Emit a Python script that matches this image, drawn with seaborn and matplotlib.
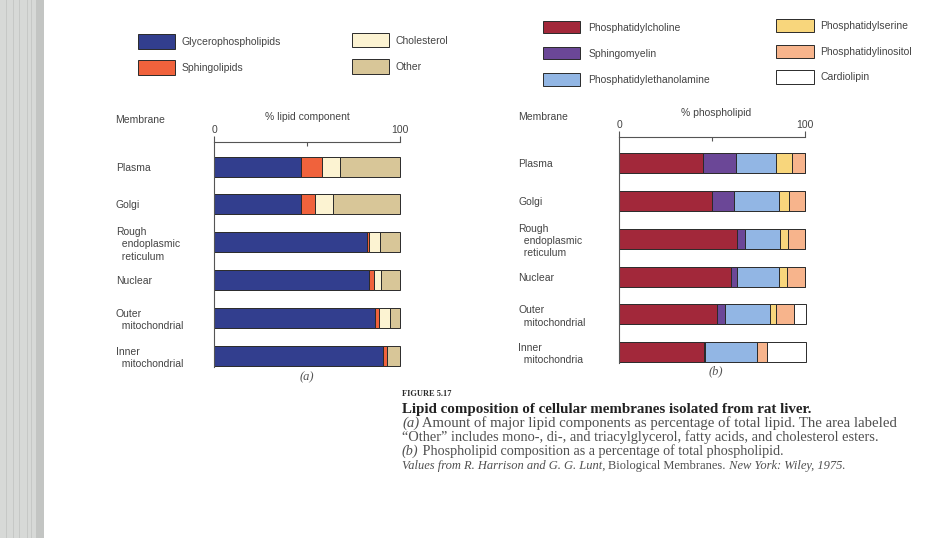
import numpy as np
import pandas as pd
import matplotlib
matplotlib.use("Agg")
import matplotlib.pyplot as plt
from matplotlib.patches import Patch, Rectangle
import seaborn as sns

# ---------------- data ----------------
membranes = ["Plasma", "Golgi", "Rough endoplasmic reticulum", "Nuclear",
             "Outer mitochondrial", "Inner mitochondrial"]
labels_a = ["Plasma", "Golgi", "Rough\n  endoplasmic\n  reticulum", "Nuclear",
            "Outer\n  mitochondrial", "Inner\n  mitochondrial"]
labels_b = ["Plasma", "Golgi", "Rough\n  endoplasmic\n  reticulum", "Nuclear",
            "Outer\n  mitochondrial", "Inner\n  mitochondria"]

lipid_components = ["Glycerophospholipids", "Sphingolipids", "Cholesterol", "Other"]
glycerophospholipids = [47, 47, 82, 83.5, 86.5, 91]
sphingolipids = [11, 7.5, 1.5, 2.5, 2, 2]
cholesterol = [10, 9.5, 5.5, 4, 6, 0]
other = [32, 36, 11, 10, 5.5, 7]

phospholipids = ["Phosphatidylcholine", "Sphingomyelin", "Phosphatidylethanolamine",
                 "Phosphatidylserine", "Phosphatidylinositol", "Cardiolipin"]
phosphatidylcholine = [45, 50, 63.5, 60, 52.5, 45.5]
sphingomyelin = [18, 12, 4, 3.5, 4.5, 0.7]
phosphatidylethanolamine = [21.5, 24, 19, 22.5, 24, 28]
phosphatidylserine = [8.5, 5.5, 4.5, 4.5, 3.5, 0]
phosphatidylinositol = [7, 8.5, 9, 9.5, 9.5, 5.5]
cardiolipin = [0, 0, 0, 0, 6.5, 21]

colors_a = ["#323e8e", "#f0623c", "#fcf3d2", "#d8c698"]
colors_b = ["#a2283a", "#6b4797", "#92b6e4", "#f8d67c", "#f7b48c", "#ffffff"]

# ---------------- style ----------------
sns.set_theme(style="white")
plt.rcParams["font.family"] = ["Liberation Sans", "DejaVu Sans"]
TXT = "#444444"
EDGE = "#2a2a2a"
FS = 7.5

W, H = 941, 538
fig = plt.figure(figsize=(W / 100, H / 100), dpi=100)
fig.patch.set_facecolor("white")


def fx(x):
    return x / W


def fy(y):
    return 1 - y / H


# book gutter strip on the left
fig.add_artist(Rectangle((0, 0), fx(44), 1, transform=fig.transFigure,
                         facecolor="#d7d9d7", edgecolor="none"))
fig.add_artist(Rectangle((fx(36), 0), fx(8), 1, transform=fig.transFigure,
                         facecolor="#c3c5c3", edgecolor="none"))
for gx in [6, 13, 19, 27, 31]:
    fig.add_artist(Rectangle((fx(gx), 0), fx(1), 1, transform=fig.transFigure,
                             facecolor="#c6c8c6", edgecolor="none"))


def stacked(ax, series, colors):
    left = np.zeros(len(membranes))
    for vals, col in zip(series, colors):
        df = pd.DataFrame({"membrane": membranes, "pct": vals})
        sns.barplot(data=df, x="pct", y="membrane", order=membranes, orient="h",
                    color=col, saturation=1, width=0.53, errorbar=None,
                    left=left.copy(), edgecolor=EDGE, linewidth=0.7,
                    clip_on=False, ax=ax)
        left += np.asarray(vals, dtype=float)


def style_axes(ax, labels, ylim, pad_pt):
    ax.set_xlim(0, 100)
    ax.set_ylim(*ylim)
    ax.set_xlabel("")
    ax.set_ylabel("")
    for s in ["bottom", "right"]:
        ax.spines[s].set_visible(False)
    for s in ["top", "left"]:
        ax.spines[s].set_color("#555555")
        ax.spines[s].set_linewidth(0.8)
    ax.xaxis.tick_top()
    ax.set_xticks([0, 100])
    ax.set_xticklabels(["0", "100"])
    ax.set_xticks([50], minor=True)
    ax.tick_params(axis="x", which="major", direction="out", length=4, width=0.8,
                   pad=1, labelsize=FS, colors="#555555", labelcolor=TXT)
    ax.tick_params(axis="x", which="minor", direction="in", length=3, width=0.8,
                   colors="#555555", top=True, bottom=False)
    ax.set_yticks(range(len(labels)))
    ax.set_yticklabels(labels, ha="left", linespacing=1.3)
    ax.tick_params(axis="y", length=0, pad=pad_pt, labelsize=FS, labelcolor=TXT)
    ax.set_facecolor("none")


leg_kw = dict(frameon=False, loc="upper left", borderpad=0, borderaxespad=0,
              fontsize=FS, labelcolor=TXT)

# ---------------- panel (a) ----------------
ax_a = fig.add_axes([fx(214), fy(367), fx(186), 225 / H])
stacked(ax_a, [glycerophospholipids, sphingolipids, cholesterol, other], colors_a)
style_axes(ax_a, labels_a, (5.3, -0.653), 98 * 0.72)

fig.text(fx(115), fy(120), "Membrane", fontsize=FS, color=TXT, ha="left", va="center")
fig.text(fx(307), fy(117), "% lipid component", fontsize=FS, color=TXT, ha="center", va="center")
fig.text(fx(307), fy(377), "(a)", fontsize=9, color="#555555", ha="center", va="center",
         family="Liberation Serif", style="italic")

hand_a = [Patch(facecolor=c, edgecolor=EDGE, linewidth=0.7) for c in colors_a]
fig.legend(hand_a[:2], lipid_components[:2], bbox_to_anchor=(fx(138), fy(34)),
           handlelength=3.55, handleheight=1.8, labelspacing=1.08, handletextpad=0.67, **leg_kw)
fig.legend(hand_a[2:], lipid_components[2:], bbox_to_anchor=(fx(352), fy(33)),
           handlelength=3.55, handleheight=1.75, labelspacing=1.15, handletextpad=0.67, **leg_kw)

# ---------------- panel (b) ----------------
ax_b = fig.add_axes([fx(619.3), fy(363), fx(185.7), 225.7 / H])
stacked(ax_b, [phosphatidylcholine, sphingomyelin, phosphatidylethanolamine,
               phosphatidylserine, phosphatidylinositol, cardiolipin], colors_b)
style_axes(ax_b, labels_b, (5.29, -0.69), 101 * 0.72)

fig.text(fx(518), fy(117), "Membrane", fontsize=FS, color=TXT, ha="left", va="center")
fig.text(fx(716), fy(113), "% phospholipid", fontsize=FS, color=TXT, ha="center", va="center")
fig.text(fx(716), fy(371), "(b)", fontsize=9, color="#555555", ha="center", va="center",
         family="Liberation Serif", style="italic")

hand_b = [Patch(facecolor=c, edgecolor=EDGE, linewidth=0.7) for c in colors_b]
fig.legend(hand_b[:3], phospholipids[:3], bbox_to_anchor=(fx(543), fy(21)),
           handlelength=3.55, handleheight=1.45, labelspacing=1.32, handletextpad=0.8, **leg_kw)
fig.legend(hand_b[3:], phospholipids[3:], bbox_to_anchor=(fx(776), fy(19)),
           handlelength=3.6, handleheight=1.6, labelspacing=1.18, handletextpad=0.67, **leg_kw)

# ---------------- caption ----------------
SERIF = ["Liberation Serif", "DejaVu Serif"]
CAP = "#505050"
fig.text(fx(402), fy(396), "FIGURE 5.17", fontsize=6.0, weight="bold", color="#2a2a2a",
         family=SERIF, ha="left", va="baseline")
fig.text(fx(402), fy(413), "Lipid composition of cellular membranes isolated from rat liver.",
         fontsize=10.8, weight="bold", color="#222222", family=SERIF, ha="left", va="baseline")


def line_parts(y, parts, size):
    x = fx(402)
    renderer = fig.canvas.get_renderer()
    for txt, sty in parts:
        t = fig.text(x, fy(y), txt, ha="left", va="baseline", fontsize=size,
                     color=CAP, family=SERIF, style=sty)
        bb = t.get_window_extent(renderer=renderer)
        x = x + bb.width / W


line_parts(426.5, [("(a)", "italic"),
                   (" Amount of major lipid components as percentage of total lipid. The area labeled", "normal")], 10.6)
line_parts(441, [("\u201cOther\u201d includes mono-, di-, and triacylglycerol, fatty acids, and cholesterol esters.", "normal")], 10.4)
line_parts(455, [("(b)", "italic"),
                 (" Phospholipid composition as a percentage of total phospholipid.", "normal")], 10.2)
line_parts(469.5, [("Values from R. Harrison and G. G. Lunt, ", "italic"),
                   ("Biological Membranes.", "normal"),
                   (" New York: Wiley, 1975.", "italic")], 9.0)

fig.savefig("out.png", dpi=100, facecolor="white")
